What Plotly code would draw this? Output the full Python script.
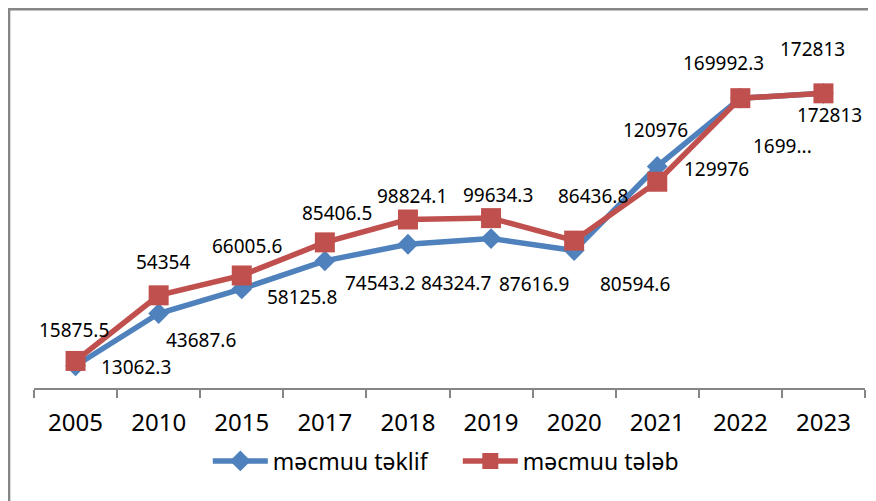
import plotly.graph_objects as go

# data
years = ["2005", "2010", "2015", "2017", "2018", "2019", "2020", "2021", "2022", "2023"]
teklif = [13062.3, 43687.6, 58125.8, 74543.2, 84324.7, 87616.9, 80594.6, 129976, 169992.3, 172813]
teleb = [15875.5, 54354, 66005.6, 85406.5, 98824.1, 99634.3, 86436.8, 120976, 169992.3, 172813]
series_names = ["məcmuu təklif", "məcmuu tələb"]

BLUE = "#4F81BD"
RED = "#C0504D"
GRAY = "#868686"
FONT = "Noto Sans"


def fmt(v):
    return ("%.1f" % v).rstrip("0").rstrip(".")


# label offsets in pixels (dx, dy up) as placed in the original
blue_offsets = [(60, -1), (42, -26), (60, -8), (55, -22), (48, -39),
                (43, -45), (61, -33), (59, -3), (42, -48), (6, -22)]
red_offsets = [(-2, 31), (4, 33), (5, 29), (12, 29), (4, 24),
               (7, 23), (19, 45), (-2, 52), (-17, 35), (-11, 44)]

blue_labels = [fmt(v) for v in teklif]
blue_labels[8] = blue_labels[8][:4] + "..."  # clipped in the original
red_labels = [fmt(v) for v in teleb]

fig = go.Figure()

fig.add_trace(go.Scatter(
    x=years, y=teklif, name=series_names[0], mode="lines+markers",
    line=dict(color=BLUE, width=5.5),
    marker=dict(symbol="diamond", size=16, color=BLUE),
))
fig.add_trace(go.Scatter(
    x=years, y=teleb, name=series_names[1], mode="lines+markers",
    line=dict(color=RED, width=5.5),
    marker=dict(symbol="square", size=20, color=RED),
))

# data labels: category string lookup fails for annotations here, so use the category index
label_font = dict(size=19, color="black", family=FONT)
for i, (v, txt, (dx, dy)) in enumerate(zip(teklif, blue_labels, blue_offsets)):
    fig.add_annotation(x=i, y=v, xref="x", yref="y", text=txt, showarrow=False,
                       xshift=dx, yshift=dy, font=label_font)
for i, (v, txt, (dx, dy)) in enumerate(zip(teleb, red_labels, red_offsets)):
    fig.add_annotation(x=i, y=v, xref="x", yref="y", text=txt, showarrow=False,
                       xshift=dx, yshift=dy, font=label_font)

# page body adds an 8px offset, so the figure is sized/placed to compensate
fig.update_layout(
    width=868, height=493,
    margin=dict(l=26, r=11, t=39, b=113),
    paper_bgcolor="white", plot_bgcolor="white",
    font=dict(family=FONT, color="black"),
    showlegend=True,
    legend=dict(orientation="h", x=0.510, xanchor="center", y=-0.214, yanchor="middle",
                font=dict(size=23, family=FONT), itemwidth=55, entrywidth=180),
    shapes=[dict(type="rect", xref="paper", yref="paper",
                 x0=-0.030, x1=1.0084, y0=-0.36, y1=1.111,
                 line=dict(color=GRAY, width=2.5), layer="below")],
)

fig.update_xaxes(
    type="category", showline=True, linecolor=GRAY, linewidth=1.5,
    ticks="outside", tickson="boundaries", ticklen=8, tickcolor=GRAY, tickwidth=1.5,
    tickfont=dict(size=24, family=FONT, color="black"), ticklabelstandoff=12,
    showgrid=False, range=[-0.5, 9.5],
)
fig.update_yaxes(range=[0, 200000], showticklabels=False, showline=False,
                 showgrid=False, zeroline=False, ticks="")

fig.write_html("out.html")
